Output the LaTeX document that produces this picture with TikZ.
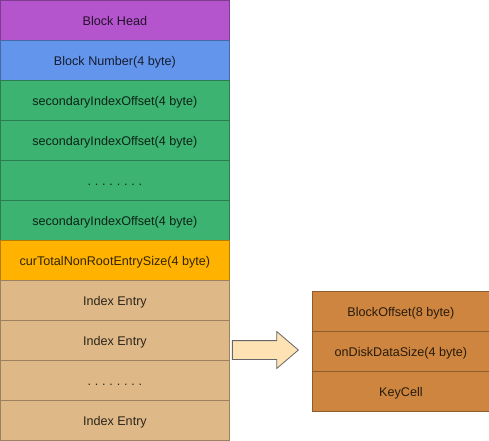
\documentclass[tikz,border=0pt]{standalone}
\usepackage{fontspec}
\setmainfont{Liberation Sans}
\usepackage{xcolor}
\usepackage{tikz}
\usetikzlibrary{shapes.arrows}
\definecolor{headpurple}{HTML}{B455CE}
\definecolor{numblue}{HTML}{6495ED}
\definecolor{offgreen}{HTML}{3CB371}
\definecolor{sizeorange}{HTML}{FFB300}
\definecolor{entrytan}{HTML}{DEB887}
\definecolor{cellbrown}{HTML}{CD853F}
\definecolor{arrowpeach}{HTML}{FFE2B4}
\tikzset{
  field/.style={draw=#1!70!black,fill=#1,text=#1!20!black,line width=0.8pt,
    minimum width=229pt,minimum height=40pt,inner sep=0pt,anchor=north west,
    text height=11pt,text depth=0.5pt,font=\fontsize{12.6}{15}\selectfont},
  cell/.style={field=cellbrown,minimum width=177pt},
}
\newcommand{\frow}[4]{% name, top, colour, text
  \node[field=#3] (#1) at (0,#2) {#4};}
\newcommand{\fdots}{.\hspace{3.8pt}.\hspace{3.8pt}.\hspace{3.8pt}.\hspace{3.8pt}%
  .\hspace{3.8pt}.\hspace{3.8pt}.\hspace{3.8pt}.}

\begin{document}
\begin{tikzpicture}[x=1pt,y=-1pt]
  \useasboundingbox (0,0) rectangle (489,440);
  \frow{head}{0}{headpurple}{Block Head}
  \frow{num}{40}{numblue}{Block Number(4 byte)}
  \foreach \y/\n/\t in {80/off1/{secondaryIndexOffset(4 byte)},
      120/off2/{secondaryIndexOffset(4 byte)},160/offdots/{\fdots},
      200/off3/{secondaryIndexOffset(4 byte)}}
    {\frow{\n}{\y}{offgreen}{\t}}
  \frow{total}{240}{sizeorange}{curTotalNonRootEntrySize(4 byte)}
  \foreach \y/\n/\t in {280/ent1/{Index Entry},320/ent2/{Index Entry},
      360/entdots/{\fdots},400/ent3/{Index Entry}}
    {\frow{\n}{\y}{entrytan}{\t}}
  % one index entry, opened up
  \node[cell] (boff) at (312,291) {BlockOffset(8 byte)};
  \node[cell] (dsize) at (312,331) {onDiskDataSize(4 byte)};
  \node[cell] (kcell) at (312,371) {KeyCell};
  \node[single arrow,draw=gray!80!black,fill=arrowpeach,line width=0.8pt,
    minimum height=66pt,inner xsep=0pt,inner ysep=9pt,anchor=tip,
    single arrow head extend=9pt,single arrow tip angle=81] (open) at (299,350) {};
\end{tikzpicture}
\end{document}
